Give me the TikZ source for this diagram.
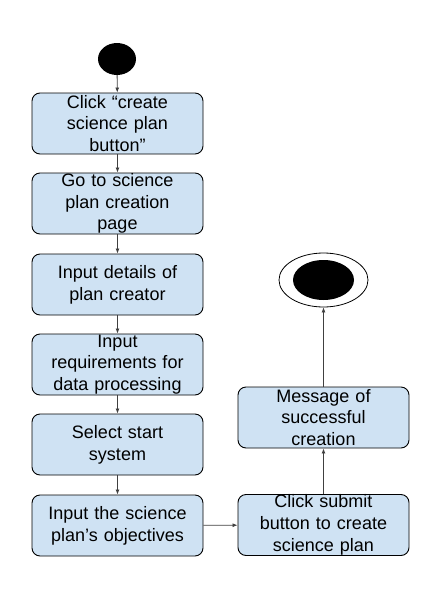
\documentclass[tikz,border=0pt]{standalone}
\usepackage{fontspec}
\setmainfont{Liberation Sans}
\usepackage{tikz}
\usetikzlibrary{arrows.meta,shapes.geometric}
\definecolor{actblue}{HTML}{CFE2F3}

\tikzset{
  act/.style={draw=black, fill=actblue, rounded corners=8pt, line width=0.9pt,
    minimum width=171pt, minimum height=61pt, inner sep=0pt},
  acttext/.style={text width=171pt, align=center, inner sep=0pt,
    font=\fontsize{18}{21.7}\selectfont},
  flow/.style={->, black!75, line width=0.8pt}
}

\begin{document}
\begin{tikzpicture}[>={Latex[length=5pt,width=4pt]}, x=1pt, y=-1pt]
  \useasboundingbox (0,0) rectangle (441,590);
  % start and end
  \node[ellipse, fill=black, minimum width=38pt, minimum height=32pt, inner sep=0pt] (start) at (117,59) {};
  \node[ellipse, draw=black, fill=white, line width=0.8pt, minimum width=89pt, minimum height=54pt, inner sep=0pt] (stop) at (323.5,280) {};
  \node[ellipse, fill=black, minimum width=61pt, minimum height=40pt, inner sep=0pt] (stopdot) at (stop) {};
  % left column
  \node[act] (a1) at (117.5,123.5) {};
  \node[acttext] (a1t) at (a1) {Click “create\\science plan\\button”};
  \node[act] (a2) at (117.5,203.5) {};
  \node[acttext] (a2t) at (a2) {Go to science\\plan creation\\page};
  \node[act] (a3) at (117.5,284.5) {};
  \node[acttext] (a3t) at (a3) {Input details of\\plan creator};
  \node[act] (a4) at (117.5,364.5) {};
  \node[acttext] (a4t) at (a4) {Input\\requirements for\\data processing};
  \node[act] (a5) at (117.5,444.5) {};
  \node[acttext] (a5t) at (a5) {Select start\\system};
  \node[act] (a6) at (117.5,525.5) {};
  \node[acttext] (a6t) at (a6) {Input the science\\plan’s objectives};
  % right column
  \node[act] (a7) at (323.5,525) {};
  \node[acttext] (a7t) at (a7) {Click submit\\button to create\\science plan};
  \node[act] (a8) at (323.5,417.5) {};
  \node[acttext] (a8t) at (a8) {Message of\\successful\\creation};
  % flow
  \draw[flow] (start) -- (a1);
  \draw[flow] (a1) -- (a2);
  \draw[flow] (a2) -- (a3);
  \draw[flow] (a3) -- (a4);
  \draw[flow] (a4) -- (a5);
  \draw[flow] (a5) -- (a6);
  \draw[flow] (a6) -- (a7);
  \draw[flow] (a7) -- (a8);
  \draw[flow] (a8) -- (stop);
\end{tikzpicture}
\end{document}
